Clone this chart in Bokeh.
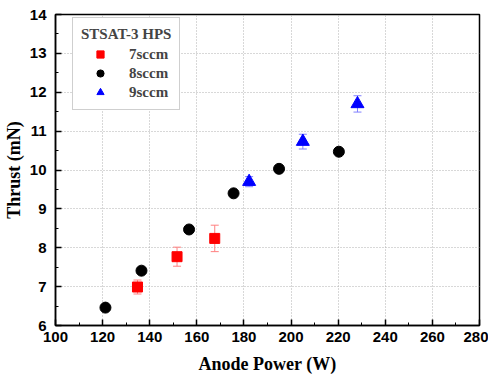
from bokeh.plotting import figure
from bokeh.models import ColumnDataSource, Whisker, Legend, LegendItem, FixedTicker, Range1d
from bokeh.embed import file_html
from bokeh.resources import INLINE

# 7 sccm
p7_x = [134.8, 151.6, 167.6]
p7_y = [6.99, 7.77, 8.24]
p7_err = [0.18, 0.245, 0.34]
# 8 sccm
p8_x = [121.2, 136.5, 156.7, 175.6, 194.9, 220.3]
p8_y = [6.46, 7.41, 8.47, 9.40, 10.03, 10.47]
# 9 sccm
p9_x = [182.2, 205.0, 228.2]
p9_y = [9.70, 10.73, 11.70]
p9_err = [0.13, 0.19, 0.21]

x_ticks = [100, 120, 140, 160, 180, 200, 220, 240, 260, 280]
y_ticks = [6, 7, 8, 9, 10, 11, 12, 13, 14]

p = figure(output_backend="svg", toolbar_location=None,
           x_range=Range1d(100, 280), y_range=Range1d(6, 14),
           frame_width=424, frame_height=311,
           min_border_left=55, min_border_right=9, min_border_top=14, min_border_bottom=45)

p.outline_line_color = "black"
p.outline_line_width = 1.5
p.background_fill_color = "white"
p.border_fill_color = "white"

for ax in (p.xaxis[0], p.yaxis[0]):
    ax.axis_line_width = 1.5
    ax.axis_line_color = "black"
    ax.major_tick_in = 6
    ax.major_tick_out = 0
    ax.minor_tick_in = 3
    ax.minor_tick_out = 0
    ax.major_tick_line_width = 1.5
    ax.major_label_text_font = "Liberation Sans"
    ax.major_label_text_font_style = "bold"
    ax.major_label_text_font_size = "15px"
    ax.major_label_text_color = "black"
    ax.axis_label_text_font = "Liberation Serif"
    ax.axis_label_text_font_style = "bold"
    ax.axis_label_text_font_size = "18px"
    ax.axis_label_text_color = "black"

p.xaxis.ticker = FixedTicker(ticks=x_ticks, minor_ticks=list(range(100, 281, 10)))
p.yaxis.ticker = FixedTicker(ticks=y_ticks, minor_ticks=[6 + 0.5 * i for i in range(17)])
p.xaxis.axis_label = "Anode Power (W)"
p.yaxis.axis_label = "Thrust (mN)"
p.xaxis.major_label_standoff = 6
p.yaxis.major_label_standoff = 9
p.xaxis.axis_label_standoff = 9
p.yaxis.axis_label_standoff = 3

for g in (p.xgrid[0], p.ygrid[0]):
    g.grid_line_color = "#b0b0b0"
    g.grid_line_dash = "1 2"
    g.grid_line_width = 1

s7 = ColumnDataSource(dict(x=p7_x, y=p7_y,
                           up=[y + e for y, e in zip(p7_y, p7_err)],
                           lo=[y - e for y, e in zip(p7_y, p7_err)]))
s8 = ColumnDataSource(dict(x=p8_x, y=p8_y))
s9 = ColumnDataSource(dict(x=p9_x, y=p9_y,
                           up=[y + e for y, e in zip(p9_y, p9_err)],
                           lo=[y - e for y, e in zip(p9_y, p9_err)]))

w7 = Whisker(source=s7, base="x", upper="up", lower="lo", line_color="#ff8080", line_width=1)
w7.upper_head.line_color = "#ff8080"
w7.lower_head.line_color = "#ff8080"
w7.upper_head.size = 8
w7.lower_head.size = 8
w9 = Whisker(source=s9, base="x", upper="up", lower="lo", line_color="#8080ff", line_width=1)
w9.upper_head.line_color = "#8080ff"
w9.lower_head.line_color = "#8080ff"
w9.upper_head.size = 8
w9.lower_head.size = 8
p.add_layout(w7)
p.add_layout(w9)

r7 = p.scatter("x", "y", source=s7, marker="square", size=10, fill_color="red", line_color="red")
r8 = p.scatter("x", "y", source=s8, marker="circle", size=11, fill_color="black", line_color="black")
r9 = p.scatter("x", "y", source=s9, marker="triangle", size=13, fill_color="blue", line_color="blue")

legend = Legend(items=[LegendItem(label="7sccm", renderers=[r7]),
                       LegendItem(label="8sccm", renderers=[r8]),
                       LegendItem(label="9sccm", renderers=[r9])],
                location=(17, 215))
legend.title = "STSAT-3 HPS"
legend.title_text_font = "Liberation Serif"
legend.title_text_font_style = "bold"
legend.title_text_font_size = "15px"
legend.title_standoff = 2
legend.label_text_font = "Liberation Serif"
legend.label_text_font_style = "bold"
legend.label_text_font_size = "15px"
legend.label_height = 18
legend.glyph_height = 18
legend.glyph_width = 38
legend.label_standoff = 10
legend.spacing = 1
legend.padding = 8
legend.margin = 0
legend.border_line_color = "#a0a0a0"
legend.border_line_width = 1
legend.background_fill_alpha = 1
p.add_layout(legend)

open("out.html", "w").write(file_html(p, INLINE))
